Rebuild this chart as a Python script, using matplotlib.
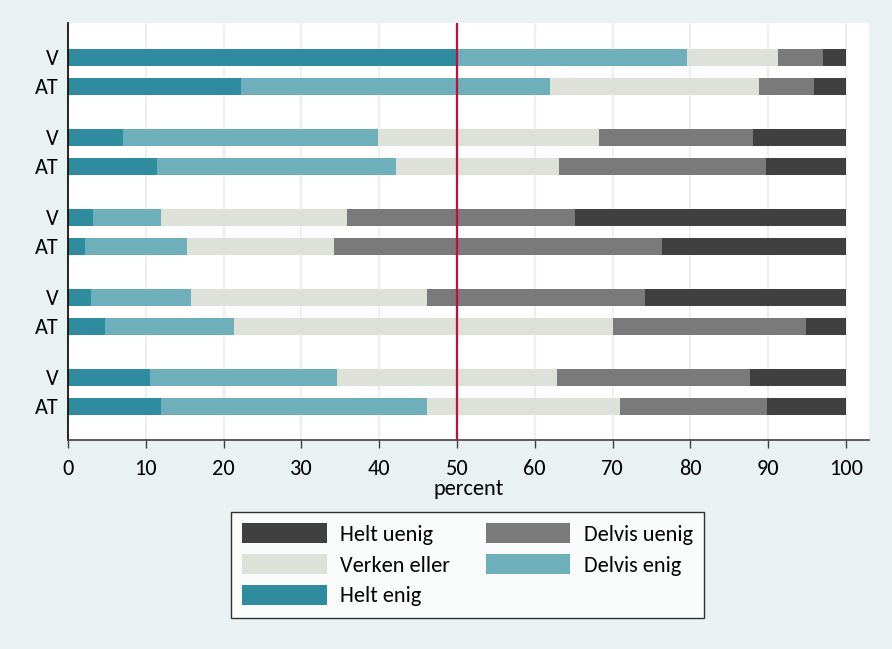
import matplotlib
matplotlib.use("Agg")
import matplotlib.pyplot as plt
from matplotlib.patches import Patch

plt.rcParams['font.family'] = ['Carlito', 'DejaVu Sans']

row_labels = ["V", "AT", "V", "AT", "V", "AT", "V", "AT", "V", "AT"]
helt_enig    = [50.0, 22.2, 7.1, 11.4, 3.2, 2.2, 3.0, 4.8, 10.5, 12.0]
delvis_enig  = [29.6, 39.7, 32.7, 30.8, 8.8, 13.1, 12.8, 16.6, 24.1, 34.1]
verken       = [11.6, 26.9, 28.5, 20.9, 23.8, 18.9, 30.3, 48.7, 28.3, 24.9]
delvis_uenig = [5.9, 7.1, 19.8, 26.6, 29.4, 42.1, 28.1, 24.8, 24.8, 18.8]
helt_uenig   = [2.9, 4.1, 11.9, 10.3, 34.8, 23.7, 25.8, 5.1, 12.3, 10.2]

series = [
    ("Helt enig", helt_enig, "#2E8C9E"),
    ("Delvis enig", delvis_enig, "#6DAFBA"),
    ("Verken eller", verken, "#DDE1D7"),
    ("Delvis uenig", delvis_uenig, "#7A7A7A"),
    ("Helt uenig", helt_uenig, "#404040"),
]
x_ticks = [0, 10, 20, 30, 40, 50, 60, 70, 80, 90, 100]
ref_value = 50

W, H = 892, 649
fig = plt.figure(figsize=(W / 100, H / 100), dpi=100)
bg = "#E9F1F3"
fig.patch.set_facecolor(bg)

left, right, top, bottom = 68, 869, 22.7, 440
ax = fig.add_axes([left / W, 1 - bottom / H, (right - left) / W, (bottom - top) / H])
ax.set_facecolor("white")

# y positions: groups of two bars
ypos = []
for i in range(len(row_labels)):
    g, k = divmod(i, 2)
    ypos.append(57.5 + 80 * g + 29 * k)

lefts = [0.0] * len(row_labels)
for name, vals, col in series:
    ax.barh(ypos, vals, left=lefts, height=17, color=col, edgecolor="none", zorder=2)
    lefts = [a + b for a, b in zip(lefts, vals)]

ax.set_ylim(bottom, top)
ax.set_xlim(0, (right - left) / 7.78)

for t in x_ticks[1:]:
    ax.axvline(t, color="#EDF0F0", lw=1.6, zorder=1)
ax.axvline(ref_value, color="#C0103A", lw=1.6, zorder=3)

ax.set_yticks(ypos)
ax.set_yticklabels(row_labels, fontsize=16)
ax.tick_params(axis="y", length=0, pad=7)
ax.set_xticks(x_ticks)
ax.set_xticklabels([str(t) for t in x_ticks], fontsize=16)
ax.tick_params(axis="x", length=6, width=1, color="#404040", pad=7.5)
ax.set_xlabel("percent", fontsize=16, labelpad=0)

for s in ["top", "right"]:
    ax.spines[s].set_visible(False)
ax.spines["left"].set_color("black")
ax.spines["left"].set_linewidth(1.2)
ax.spines["bottom"].set_color("#404040")
ax.spines["bottom"].set_linewidth(1.2)

cmap = {n: c for n, v, c in series}
order = ["Helt uenig", "Verken eller", "Helt enig", "Delvis uenig", "Delvis enig"]
handles = [Patch(facecolor=cmap[n], edgecolor="none", label=n) for n in order]
leg = fig.legend(handles=handles, ncol=2, loc="upper center",
                 bbox_to_anchor=(467.5 / W, 1 - 512 / H), fontsize=16,
                 frameon=True, fancybox=False, edgecolor="black",
                 handlelength=3.8, handleheight=1.0, handletextpad=0.6,
                 labelspacing=0.42, columnspacing=1.6, borderpad=0.5,
                 borderaxespad=0)
leg.get_frame().set_linewidth(1.0)
leg.get_frame().set_facecolor("white")

fig.savefig("out.png", dpi=100, facecolor=bg)
